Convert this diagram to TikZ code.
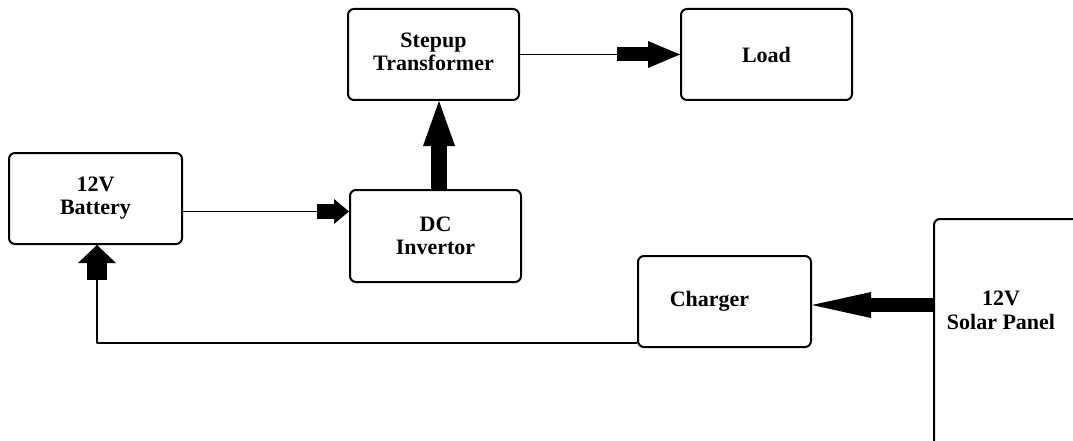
\documentclass[tikz,border=0pt]{standalone}
\usepackage{fontspec}
\setmainfont{Liberation Serif}
\usepackage{tikz}
\usetikzlibrary{arrows.meta}
\tikzset{
  every picture/.style={
    line join=round,
  },
  box/.style={draw, rounded corners=6pt, line width=2pt, inner sep=0pt,
    align=center, font=\fontsize{22}{23}\selectfont\bfseries},
  lbl/.style={align=center, font=\fontsize{22}{24}\selectfont\bfseries},
  wire/.style={line width=1.3pt},
  % block arrow: shaft width, head width, head length
  blockarrow/.style n args={3}{line width=#1,
    -{Triangle[width=#2, length=#3, line width=0pt]}},
}

\begin{document}
\begin{tikzpicture}[x=1pt, y=-1pt]
    \useasboundingbox (0,0) rectangle (1073,441);
    \clip (0,0) rectangle (1073,441);

    % Blocks
    \node[box, minimum width=173pt, minimum height=91pt] (battery) at (95.5,198.5) {12V\\Battery};
    \node[box, minimum width=171pt, minimum height=91pt] (stepup) at (433.5,54.5) {Stepup\\Transformer\rule[-6pt]{0pt}{0pt}};
    \node[box, minimum width=171pt, minimum height=91pt] (load) at (766.5,54.5) {Load};
    \node[box, minimum width=171pt, minimum height=92pt] (dc) at (435.5,236) {DC\\Invertor};
    \node[box, minimum width=173pt, minimum height=91pt] (charger) at (724.5,301.5) {Charger\hspace*{30pt}};
    \node[box, anchor=north west, minimum width=200pt, minimum height=260pt] (solar) at (933,218) {};
    \node[lbl] (solarlbl) at ([shift={(68pt,-92pt)}]solar.north west) {12V\\Solar Panel};

    % Stepup -> Load
    \draw[wire] (stepup) -- (load);
    \draw[blockarrow={14pt}{27pt}{32pt}] ([xshift=-63pt]load.west) -- (load.west);

    % Battery -> DC Invertor
    \coordinate (b1) at ([yshift=-13pt]battery.east);
    \coordinate (dcin) at (b1 -| dc.west);
    \draw[wire] (b1) -- (dcin);
    \draw[blockarrow={15pt}{25pt}{15pt}] ([xshift=-32pt]dcin) -- (dcin);

    % DC Invertor -> Stepup
    \coordinate (dcout) at ([xshift=3.5pt]dc.north);
    \draw[blockarrow={16pt}{32pt}{45pt}] (dcout) -- (dcout |- stepup.south);

    % Solar Panel -> Charger
    \coordinate (chin) at ([yshift=-3.5pt]charger.east);
    \draw[blockarrow={14pt}{26pt}{59pt}] (chin -| solar.west) -- (chin);

    % Charger -> Battery
    \coordinate (c1) at ([yshift=5pt]charger.south west);
    \coordinate (bin) at ([xshift=1.5pt]battery.south);
    \draw[wire] (c1) -| (bin);
    \draw[blockarrow={20pt}{38pt}{18pt}] ([yshift=-35pt]bin) -- (bin);
\end{tikzpicture}
\end{document}
